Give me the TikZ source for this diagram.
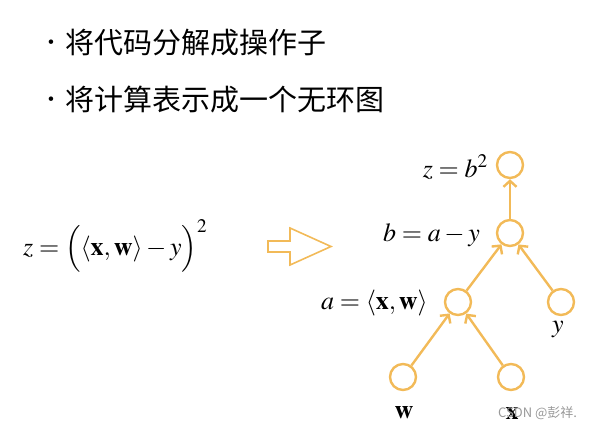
\documentclass[tikz,border=0pt]{standalone}
\usepackage{mathptmx}
\usepackage{fontspec}
\usepackage{tikz}
\usetikzlibrary{arrows.meta}
\newfontfamily\cjk{Noto Sans CJK SC}
\definecolor{graphorange}{RGB}{242,186,88}

\begin{document}
\begin{tikzpicture}[x=1pt, y=-1pt,
    op/.style={circle, draw=graphorange, line width=2.4pt, minimum size=26pt, inner sep=0pt},
    flow/.style={draw=graphorange, line width=2.4pt, -{Straight Barb[length=6pt,width=13pt]}},
    lbl/.style={inner sep=0pt, font=\fontsize{26}{30}\selectfont},
    bullettext/.style={anchor=west, inner sep=0pt, font=\cjk\fontsize{29}{34}\selectfont}]
  \useasboundingbox (0,0) rectangle (592,432);

  % Bullets
  \node[inner sep=0pt, font=\fontsize{20}{24}\selectfont] (dot1) at (51,44) {\textbullet};
  \node[bullettext] (line1) at (65,43) {将代码分解成操作子};
  \node[inner sep=0pt, font=\fontsize{20}{24}\selectfont] (dot2) at (51,101) {\textbullet};
  \node[bullettext] (line2) at (65,100) {将计算表示成一个无环图};

  % Formula and hollow arrow
  \node[lbl, anchor=west] (formula) at (23,246) {$z = \Big(\langle \mathbf{x}, \mathbf{w}\rangle - y\Big)^{2}$};
  \draw[graphorange, line width=1.6pt, line join=miter]
    (268,241) -- (290,241) -- (290,228) -- (331,246.5) -- (290,265) -- (290,252) -- (268,252) -- cycle;

  % Graph nodes
  \node[op] (z) at (510,165) {};
  \node[op] (b) at (510,233) {};
  \node[op] (a) at (458,302) {};
  \node[op] (y) at (561,302) {};
  \node[op] (w) at (403,377) {};
  \node[op] (x) at (511,377) {};

  % Edges
  \draw[flow] (b) -- (z);
  \draw[flow] (a) -- (b);
  \draw[flow] (y) -- (b);
  \draw[flow] (w) -- (a);
  \draw[flow] (x) -- (a);

  % Labels
  \node[lbl, anchor=east] (zlbl) at (488,167) {$z = b^2$};
  \node[lbl, anchor=east] (blbl) at (480,235) {$b = a - y$};
  \node[lbl, anchor=east] (albl) at (428,303) {$a = \langle \mathbf{x}, \mathbf{w}\rangle$};
  \node[lbl] (ylbl) at (558,329) {$y$};
  \node[lbl] (wlbl) at (404,413) {$\mathbf{w}$};
  \node[lbl] (xlbl) at (512,413) {$\mathbf{x}$};
  \node[anchor=west, inner sep=0pt, text=black!40, font=\cjk\fontsize{13}{15}\selectfont] (mark) at (498,413) {CSDN @彭祥.};
\end{tikzpicture}
\end{document}
